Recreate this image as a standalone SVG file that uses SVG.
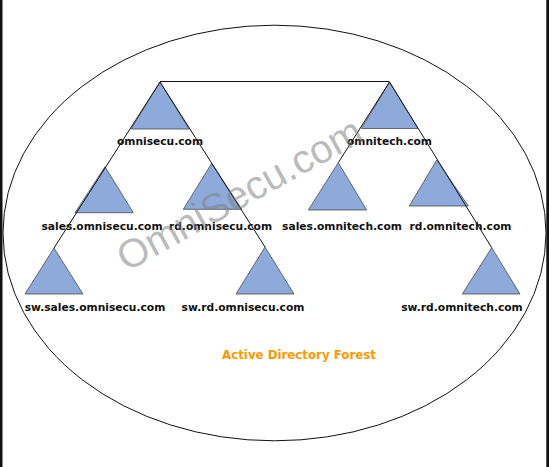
<svg xmlns="http://www.w3.org/2000/svg" width="549" height="467" viewBox="0 0 549 467">
<style>
.tri{fill:#8eaadb;stroke:#4a4a4a;stroke-width:0.8}
.lbl{font-family:"DejaVu Sans",Verdana,sans-serif;font-weight:bold;font-size:10.7px;fill:#111;text-anchor:middle}
.con{stroke:#111;stroke-width:1;fill:none}
.title{font-family:"DejaVu Sans",Verdana,sans-serif;font-weight:bold;font-size:11.8px;fill:#ff9900;text-anchor:middle}
.wm{font-family:"Liberation Sans",Arial,sans-serif;font-size:40px;fill:#808080;fill-opacity:0.55;text-anchor:middle}
</style>
<rect x="0" y="0" width="549" height="467" fill="#fff"/>
<rect x="0" y="0" width="2.5" height="467" fill="#111"/>
<rect x="546.3" y="0" width="2.7" height="467" fill="#111"/>
<ellipse id="forest" cx="274.5" cy="233" rx="271.5" ry="207.8" fill="none" stroke="#111" stroke-width="1"/>

<g id="omnisecu"><polygon class="tri" points="160,82 131,129 189,129"/><text class="lbl" x="160" y="145">omnisecu.com</text></g>
<g id="omnitech"><polygon class="tri" points="389.5,82 361.5,128.5 418,128.5"/><text class="lbl" x="389.5" y="145">omnitech.com</text></g>
<g id="sales-omnisecu"><polygon class="tri" points="105,166.7 75,212.7 133.3,212.7"/><text class="lbl" x="102" y="230">sales.omnisecu.com</text></g>
<g id="rd-omnisecu"><polygon class="tri" points="211.7,163.3 183.3,209.3 241.7,209.3"/><text class="lbl" x="220.5" y="230">rd.omnisecu.com</text></g>
<g id="sales-omnitech"><polygon class="tri" points="338.3,162.7 308.3,210 366.7,210"/><text class="lbl" x="342" y="230">sales.omnitech.com</text></g>
<g id="rd-omnitech"><polygon class="tri" points="436.7,160 409.3,206 468.3,206"/><text class="lbl" x="460.5" y="230">rd.omnitech.com</text></g>
<g id="sw-sales-omnisecu"><polygon class="tri" points="54,248 25,294 83,294"/><text class="lbl" x="95" y="310.5">sw.sales.omnisecu.com</text></g>
<g id="sw-rd-omnisecu"><polygon class="tri" points="265,247 236,294 294,294"/><text class="lbl" x="243" y="310.5">sw.rd.omnisecu.com</text></g>
<g id="sw-rd-omnitech"><polygon class="tri" points="491.7,247.7 462.3,294 520,294"/><text class="lbl" x="462" y="310.5">sw.rd.omnitech.com</text></g>

<g id="connectors">
<line class="con" x1="160" y1="81.5" x2="389.5" y2="81.5"/>
<line class="con" x1="160" y1="82" x2="54" y2="248"/>
<line class="con" x1="160" y1="82" x2="265" y2="247"/>
<line class="con" x1="389.5" y1="82" x2="338.3" y2="162.7"/>
<line class="con" x1="389.5" y1="82" x2="491.7" y2="247.7"/>
</g>

<text class="title" x="299" y="359">Active Directory Forest</text>
<text class="wm" x="246" y="206" transform="rotate(-29 246 206)">OmniSecu.com</text>
</svg>
